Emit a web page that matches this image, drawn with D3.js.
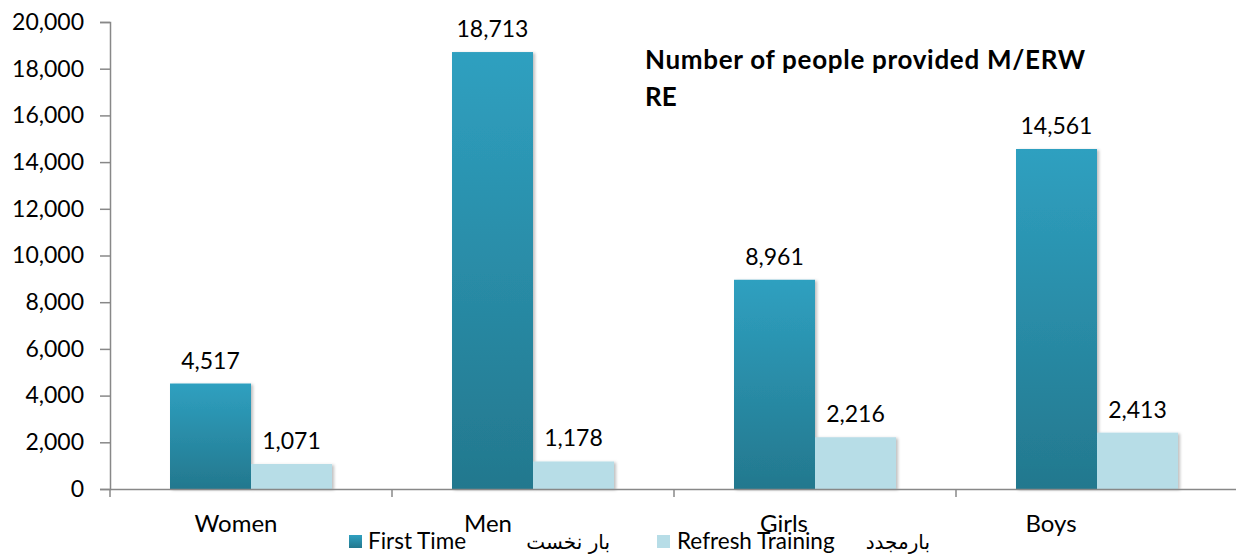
<!DOCTYPE html>
<html>
<head>
<meta charset="utf-8">
<script src="https://cdn.jsdelivr.net/npm/d3@7"></script>
<style>
  body { margin: 0; background: #fff; }
  svg { display: block; font-family: Lato, "Open Sans", sans-serif; }
</style>
</head>
<body>
<svg id="chart" width="1236" height="554"></svg>
<script>
// data
const categories = ["Women", "Men", "Girls", "Boys"];
const firstTime = [4517, 18713, 8961, 14561];
const refresh = [1071, 1178, 2216, 2413];
const seriesNames = ["First Time", "Refresh Training"];
const seriesPersian = ["بار نخست", "بارمجدد"];
const yTicks = [0, 2000, 4000, 6000, 8000, 10000, 12000, 14000, 16000, 18000, 20000];

const svg = d3.select("#chart");
const defs = svg.append("defs");

// gradient for the dark series
const grad = defs.append("linearGradient")
    .attr("id", "gFirst").attr("x1", 0).attr("y1", 0).attr("x2", 0).attr("y2", 1);
grad.append("stop").attr("offset", "0%").attr("stop-color", "#2FA0C0");
grad.append("stop").attr("offset", "100%").attr("stop-color", "#23788E");

const shadow = defs.append("filter").attr("id", "shadow")
    .attr("x", "-10%").attr("y", "-10%").attr("width", "130%").attr("height", "130%");
shadow.append("feDropShadow").attr("dx", 2).attr("dy", 1).attr("stdDeviation", 1.5)
    .attr("flood-color", "#000").attr("flood-opacity", 0.25);

const plotL = 110, plotR = 1238, plotT = 22, plotB = 489;

const x = d3.scaleBand().domain(categories).range([plotL, plotR]);
const y = d3.scaleLinear().domain([0, 20000]).range([plotB, plotT]);

// bar width ~81 in a 282 band
const barW = 81;
function barX(cat, s) {
    const c = x(cat) + x.bandwidth() / 2;
    return c - barW + s * barW;
}

// y axis
const yAxis = d3.axisLeft(y).tickValues(yTicks).tickSize(10).tickPadding(16)
    .tickFormat(d3.format(","));
const gy = svg.append("g").attr("transform", `translate(${plotL},0)`).call(yAxis);
gy.select(".domain").attr("stroke", "#888").attr("stroke-width", 1.5);
gy.selectAll(".tick line").attr("stroke", "#888").attr("stroke-width", 1.5);
gy.selectAll(".tick text").attr("font-size", 23).attr("fill", "#000")
    .attr("font-family", "Lato, 'Open Sans', sans-serif");

// bars
const series = [firstTime, refresh];
series.forEach((vals, s) => {
    svg.append("g").selectAll("rect")
        .data(categories)
        .join("rect")
        .attr("x", d => barX(d, s))
        .attr("y", (d, i) => y(vals[i]))
        .attr("width", barW)
        .attr("height", (d, i) => plotB - y(vals[i]))
        .attr("fill", s === 0 ? "url(#gFirst)" : "#B7DDE7")
        .attr("filter", "url(#shadow)");
});

// value labels
series.forEach((vals, s) => {
    svg.append("g").selectAll("text")
        .data(categories)
        .join("text")
        .attr("x", d => barX(d, s) + barW / 2)
        .attr("y", (d, i) => y(vals[i]) - 15)
        .attr("text-anchor", "middle")
        .attr("font-size", 23)
        .attr("fill", "#000")
        .text((d, i) => d3.format(",")(vals[i]));
});

// x axis (labels in the source sit a bit left of the group centres)
const labelNudge = [-15, -45, -31, -46];
const xAxis = d3.axisBottom(x).tickSize(0).tickPadding(26);
const gx = svg.append("g").attr("transform", `translate(0,${plotB})`).call(xAxis);
gx.select(".domain").attr("stroke", "#888").attr("stroke-width", 1.5);
gx.selectAll(".tick text").attr("font-size", 24).attr("fill", "#000")
    .attr("font-family", "Lato, 'Open Sans', sans-serif")
    .attr("dx", (d, i) => labelNudge[i]);
// category separators
const sep = categories.map(c => x(c)).concat([plotR]);
svg.append("g").selectAll("line").data(sep).join("line")
    .attr("x1", d => d).attr("x2", d => d)
    .attr("y1", plotB).attr("y2", plotB + 8)
    .attr("stroke", "#888").attr("stroke-width", 1.5);

// title
const title = svg.append("text")
    .attr("font-size", 26).attr("font-weight", "bold").attr("fill", "#000");
title.append("tspan").attr("x", 645).attr("y", 69)
    .attr("textLength", 440).attr("lengthAdjust", "spacing")
    .text("Number of people provided M/ERW");
title.append("tspan").attr("x", 645).attr("y", 106).text("RE");

// legend
const legend = [
    { sx: 349, tx: 368, px: 610, fill: "url(#gFirst)" },
    { sx: 657, tx: 677, px: 930, fill: "#B7DDE7" }
];
legend.forEach((l, i) => {
    svg.append("rect").attr("x", l.sx).attr("y", 535).attr("width", 13).attr("height", 13)
        .attr("fill", l.fill);
    svg.append("text").attr("x", l.tx).attr("y", 549).attr("font-size", 22.5).attr("fill", "#000")
        .text(seriesNames[i]);
    svg.append("text").attr("x", l.px).attr("y", 549).attr("font-size", 20).attr("fill", "#000")
        .attr("text-anchor", "end")
        .attr("font-family", "'DejaVu Sans', 'Noto Sans', sans-serif")
        .text(seriesPersian[i]);
});
</script>
</body>
</html>
